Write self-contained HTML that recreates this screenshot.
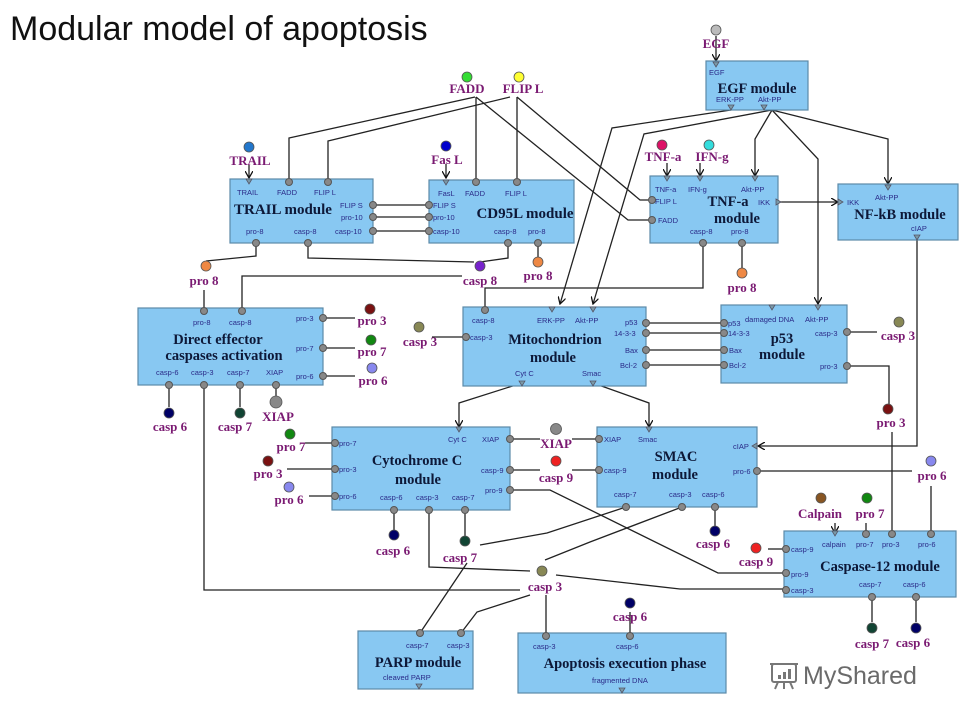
<!DOCTYPE html>
<html><head><meta charset="utf-8"><style>
body{margin:0;background:#fff;width:960px;height:720px;overflow:hidden}
svg{display:block}
.t{font-family:"Liberation Sans",sans-serif;font-size:34px;fill:#111}
.b{fill:#88c8f2;stroke:#5c8aa8;stroke-width:1.2}
.m{font-family:"Liberation Serif",serif;font-weight:bold;font-size:14.5px;fill:#0d1838;text-anchor:middle}
.p{font-family:"Liberation Sans",sans-serif;font-size:7.5px;fill:#2a2a88}
.n{font-family:"Liberation Serif",serif;font-weight:bold;font-size:13px;fill:#7a1a72;text-anchor:middle}
.l{fill:none;stroke:#222;stroke-width:1.3}
.g{fill:#888;stroke:#555;stroke-width:1}
.tr{fill:#7a9aa8;stroke:#556;stroke-width:.8}
</style></head><body>
<svg width="960" height="720" viewBox="0 0 960 720" xmlns="http://www.w3.org/2000/svg">
<defs><marker id="a" markerWidth="8" markerHeight="8" refX="7" refY="4" orient="auto" markerUnits="userSpaceOnUse"><path d="M0,0 L7,4 L0,8" fill="none" stroke="#111" stroke-width="1.3"/></marker></defs>
<text class="t" x="10" y="40">Modular model of apoptosis</text>

<g class="l">
<path d="M716,36V61" marker-end="url(#a)"/>
<path d="M731,110L612,128L560,304" marker-end="url(#a)"/>
<path d="M772,110L644,134L593,304" marker-end="url(#a)"/>
<path d="M772,110L755,139V176" marker-end="url(#a)"/>
<path d="M772,110L818,159V304" marker-end="url(#a)"/>
<path d="M772,110L888,139V184" marker-end="url(#a)"/>
<path d="M778,202H838" marker-end="url(#a)"/>
<path d="M917,237V446H758" marker-end="url(#a)"/>
<path d="M475,97L289,138V180"/>
<path d="M510,97L328,141V180"/>
<path d="M476,97V180"/>
<path d="M517,97V180"/>
<path d="M476,97L628,220H650"/>
<path d="M517,97L640,200H650"/>
<path d="M249,165V178" marker-end="url(#a)"/>
<path d="M446,164V178" marker-end="url(#a)"/>
<path d="M667,163V176" marker-end="url(#a)"/>
<path d="M700,163V176" marker-end="url(#a)"/>
<path d="M373,205H429M373,217H429M373,231H429"/>
<path d="M256,243V256L206,261"/>
<path d="M308,243V258L474,262"/>
<path d="M508,243V258L480,262"/>
<path d="M538,243V258"/>
<path d="M703,243V288H485V310"/>
<path d="M242,308V276H462"/>
<path d="M204,290V308"/>
<path d="M742,243V268"/>
<path d="M646,323H721M646,333H721M646,350H721M646,365H721"/>
<path d="M432,337H463"/>
<path d="M522,383L459,403V427" marker-end="url(#a)"/>
<path d="M593,383L649,403V427" marker-end="url(#a)"/>
<path d="M847,332H877"/>
<path d="M847,366H889V404"/>
<path d="M892,432V532"/>
<path d="M931,486V532"/>
<path d="M757,471H912"/>
<path d="M323,318H355M323,348H355M323,376H355"/>
<path d="M169,385V407M240,385V407M276,385V396"/>
<path d="M204,385V590H520"/>
<path d="M305,443H332M287,469H332M309,496H332"/>
<path d="M510,439H540M572,439H597M510,470H540M572,470H597"/>
<path d="M510,490H550L718,573H784"/>
<path d="M394,510V530M465,510V536"/>
<path d="M429,510V567L530,571"/>
<path d="M480,545L547,533L626,507"/>
<path d="M545,560L590,542L682,507"/>
<path d="M715,507V526"/>
<path d="M556,575L680,589H784"/>
<path d="M546,595V633"/>
<path d="M530,595L477,612L461,633"/>
<path d="M467,563L420,633"/>
<path d="M630,612V633"/>
<path d="M768,549H784"/>
<path d="M835,523V533" marker-end="url(#a)"/>
<path d="M866,523V533"/>
<path d="M872,597V622M916,597V622"/>
</g>

<rect class="b" x="706" y="61" width="102" height="49"/>
<rect class="b" x="230" y="179" width="143" height="64"/>
<rect class="b" x="429" y="180" width="145" height="63"/>
<rect class="b" x="650" y="176" width="128" height="67"/>
<rect class="b" x="838" y="184" width="120" height="56"/>
<rect class="b" x="138" y="308" width="185" height="77"/>
<rect class="b" x="463" y="307" width="183" height="79"/>
<rect class="b" x="721" y="305" width="126" height="78"/>
<rect class="b" x="332" y="427" width="178" height="83"/>
<rect class="b" x="597" y="427" width="160" height="80"/>
<rect class="b" x="784" y="531" width="172" height="66"/>
<rect class="b" x="358" y="631" width="115" height="58"/>
<rect class="b" x="518" y="633" width="208" height="60"/>

<text class="m" x="757" y="93">EGF module</text>
<text class="m" x="283" y="214" style="font-size:15px">TRAIL module</text>
<text class="m" x="525" y="218" style="font-size:15px">CD95L module</text>
<text class="m" x="728" y="206">TNF-a</text><text class="m" x="737" y="223">module</text>
<text class="m" x="900" y="219">NF-kB module</text>
<text class="m" x="218" y="344">Direct effector</text><text class="m" x="224" y="360">caspases activation</text>
<text class="m" x="555" y="344">Mitochondrion</text><text class="m" x="553" y="362">module</text>
<text class="m" x="782" y="343">p53</text><text class="m" x="782" y="359">module</text>
<text class="m" x="417" y="465">Cytochrome C</text><text class="m" x="418" y="484">module</text>
<text class="m" x="676" y="461">SMAC</text><text class="m" x="675" y="479">module</text>
<text class="m" x="880" y="571">Caspase-12 module</text>
<text class="m" x="418" y="667">PARP module</text>
<text class="m" x="625" y="668">Apoptosis execution phase</text>

<g class="p">
<text x="709" y="75">EGF</text><text x="716" y="102">ERK-PP</text><text x="758" y="102">Akt-PP</text>
<text x="237" y="195">TRAIL</text><text x="277" y="195">FADD</text><text x="314" y="195">FLIP L</text>
<text x="340" y="208">FLIP S</text><text x="341" y="220">pro-10</text><text x="335" y="234">casp-10</text>
<text x="246" y="234">pro-8</text><text x="294" y="234">casp-8</text>
<text x="438" y="196">FasL</text><text x="465" y="196">FADD</text><text x="505" y="196">FLIP L</text>
<text x="433" y="208">FLIP S</text><text x="433" y="220">pro-10</text><text x="433" y="234">casp-10</text>
<text x="494" y="234">casp-8</text><text x="528" y="234">pro-8</text>
<text x="655" y="192">TNF-a</text><text x="688" y="192">IFN-g</text><text x="741" y="192">Akt-PP</text>
<text x="655" y="204">FLIP L</text><text x="658" y="223">FADD</text><text x="758" y="205">IKK</text>
<text x="690" y="234">casp-8</text><text x="731" y="234">pro-8</text>
<text x="847" y="205">IKK</text><text x="875" y="200">Akt-PP</text><text x="911" y="231">cIAP</text>
<text x="193" y="325">pro-8</text><text x="229" y="325">casp-8</text>
<text x="296" y="321">pro-3</text><text x="296" y="351">pro-7</text><text x="296" y="379">pro-6</text>
<text x="156" y="375">casp-6</text><text x="191" y="375">casp-3</text><text x="227" y="375">casp-7</text><text x="266" y="375">XIAP</text>
<text x="472" y="323">casp-8</text><text x="470" y="340">casp-3</text><text x="537" y="323">ERK-PP</text><text x="575" y="323">Akt-PP</text>
<text x="625" y="325">p53</text><text x="614" y="336">14-3-3</text><text x="625" y="353">Bax</text><text x="620" y="368">Bcl-2</text>
<text x="515" y="376">Cyt C</text><text x="582" y="376">Smac</text>
<text x="728" y="326">p53</text><text x="728" y="336">14-3-3</text><text x="729" y="353">Bax</text><text x="729" y="368">Bcl-2</text>
<text x="745" y="322">damaged DNA</text><text x="805" y="322">Akt-PP</text>
<text x="815" y="336">casp-3</text><text x="820" y="369">pro-3</text>
<text x="339" y="446">pro-7</text><text x="339" y="472">pro-3</text><text x="339" y="499">pro-6</text>
<text x="448" y="442">Cyt C</text><text x="482" y="442">XIAP</text><text x="481" y="473">casp-9</text><text x="485" y="493">pro-9</text>
<text x="380" y="500">casp-6</text><text x="416" y="500">casp-3</text><text x="452" y="500">casp-7</text>
<text x="604" y="442">XIAP</text><text x="638" y="442">Smac</text><text x="733" y="449">cIAP</text>
<text x="604" y="473">casp-9</text><text x="733" y="474">pro-6</text>
<text x="614" y="497">casp-7</text><text x="669" y="497">casp-3</text><text x="702" y="497">casp-6</text>
<text x="791" y="552">casp-9</text><text x="822" y="547">calpain</text><text x="856" y="547">pro-7</text><text x="882" y="547">pro-3</text><text x="918" y="547">pro-6</text>
<text x="791" y="577">pro-9</text><text x="791" y="593">casp-3</text><text x="859" y="587">casp-7</text><text x="903" y="587">casp-6</text>
<text x="406" y="648">casp-7</text><text x="447" y="648">casp-3</text><text x="383" y="680">cleaved PARP</text>
<text x="533" y="649">casp-3</text><text x="616" y="649">casp-6</text><text x="592" y="683">fragmented DNA</text>
</g>

<g class="g">
<circle cx="289" cy="182" r="3.5"/><circle cx="328" cy="182" r="3.5"/>
<circle cx="373" cy="205" r="3.5"/><circle cx="373" cy="217" r="3.5"/><circle cx="373" cy="231" r="3.5"/>
<circle cx="429" cy="205" r="3.5"/><circle cx="429" cy="217" r="3.5"/><circle cx="429" cy="231" r="3.5"/>
<circle cx="256" cy="243" r="3.5"/><circle cx="308" cy="243" r="3.5"/>
<circle cx="476" cy="182" r="3.5"/><circle cx="517" cy="182" r="3.5"/>
<circle cx="508" cy="243" r="3.5"/><circle cx="538" cy="243" r="3.5"/>
<circle cx="652" cy="200" r="3.5"/><circle cx="652" cy="220" r="3.5"/>
<circle cx="703" cy="243" r="3.5"/><circle cx="742" cy="243" r="3.5"/>
<circle cx="204" cy="311" r="3.5"/><circle cx="242" cy="311" r="3.5"/>
<circle cx="323" cy="318" r="3.5"/><circle cx="323" cy="348" r="3.5"/><circle cx="323" cy="376" r="3.5"/>
<circle cx="169" cy="385" r="3.5"/><circle cx="204" cy="385" r="3.5"/><circle cx="240" cy="385" r="3.5"/><circle cx="276" cy="385" r="3.5"/>
<circle cx="485" cy="310" r="3.5"/><circle cx="466" cy="337" r="3.5"/>
<circle cx="646" cy="323" r="3.5"/><circle cx="646" cy="333" r="3.5"/><circle cx="646" cy="350" r="3.5"/><circle cx="646" cy="365" r="3.5"/>
<circle cx="724" cy="323" r="3.5"/><circle cx="724" cy="333" r="3.5"/><circle cx="724" cy="350" r="3.5"/><circle cx="724" cy="365" r="3.5"/>
<circle cx="847" cy="332" r="3.5"/><circle cx="847" cy="366" r="3.5"/>
<circle cx="335" cy="443" r="3.5"/><circle cx="335" cy="469" r="3.5"/><circle cx="335" cy="496" r="3.5"/>
<circle cx="510" cy="439" r="3.5"/><circle cx="510" cy="470" r="3.5"/><circle cx="510" cy="490" r="3.5"/>
<circle cx="394" cy="510" r="3.5"/><circle cx="429" cy="510" r="3.5"/><circle cx="465" cy="510" r="3.5"/>
<circle cx="599" cy="439" r="3.5"/><circle cx="599" cy="470" r="3.5"/><circle cx="757" cy="471" r="3.5"/>
<circle cx="626" cy="507" r="3.5"/><circle cx="682" cy="507" r="3.5"/><circle cx="715" cy="507" r="3.5"/>
<circle cx="786" cy="549" r="3.5"/><circle cx="786" cy="573" r="3.5"/><circle cx="786" cy="590" r="3.5"/>
<circle cx="866" cy="534" r="3.5"/><circle cx="892" cy="534" r="3.5"/><circle cx="931" cy="534" r="3.5"/>
<circle cx="872" cy="597" r="3.5"/><circle cx="916" cy="597" r="3.5"/>
<circle cx="420" cy="633" r="3.5"/><circle cx="461" cy="633" r="3.5"/>
<circle cx="546" cy="636" r="3.5"/><circle cx="630" cy="636" r="3.5"/>
</g>
<g class="tr">
<path d="M713,62h6l-3,5z"/><path d="M728,105h6l-3,5z"/><path d="M761,105h6l-3,5z"/>
<path d="M246,179h6l-3,5z"/><path d="M443,180h6l-3,5z"/><path d="M664,176h6l-3,5z"/><path d="M697,176h6l-3,5z"/><path d="M752,176h6l-3,5z"/>
<path d="M776,199v6l5,-3z"/><path d="M838,199v6l5,-3z"/><path d="M885,185h6l-3,5z"/><path d="M914,235h6l-3,5z"/>
<path d="M549,307h6l-3,5z"/><path d="M590,307h6l-3,5z"/><path d="M519,381h6l-3,5z"/><path d="M590,381h6l-3,5z"/>
<path d="M769,305h6l-3,5z"/><path d="M815,305h6l-3,5z"/>
<path d="M456,427h6l-3,5z"/><path d="M646,427h6l-3,5z"/><path d="M757,443v6l-5,-3z"/>
<path d="M832,531h6l-3,5z"/><path d="M416,684h6l-3,5z"/><path d="M619,688h6l-3,5z"/>
</g>

<g stroke="#555" stroke-width=".8">
<circle cx="716" cy="30" r="5" fill="#bbb"/>
<circle cx="467" cy="77" r="5" fill="#33dd33"/><circle cx="519" cy="77" r="5" fill="#ffff33"/>
<circle cx="249" cy="147" r="5" fill="#2277cc"/><circle cx="446" cy="146" r="5" fill="#0000cc"/>
<circle cx="662" cy="145" r="5" fill="#dd1166"/><circle cx="709" cy="145" r="5" fill="#33dddd"/>
<circle cx="206" cy="266" r="5" fill="#ee8844"/><circle cx="480" cy="266" r="5" fill="#7722cc"/>
<circle cx="538" cy="262" r="5" fill="#ee8844"/><circle cx="742" cy="273" r="5" fill="#ee8844"/>
<circle cx="370" cy="309" r="5" fill="#7a1111"/><circle cx="371" cy="340" r="5" fill="#118811"/><circle cx="372" cy="368" r="5" fill="#8888ee"/>
<circle cx="419" cy="327" r="5" fill="#888855"/><circle cx="899" cy="322" r="5" fill="#888855"/>
<circle cx="169" cy="413" r="5" fill="#000066"/><circle cx="240" cy="413" r="5" fill="#114433"/><circle cx="276" cy="402" r="6" fill="#888"/>
<circle cx="888" cy="409" r="5" fill="#7a1111"/>
<circle cx="290" cy="434" r="5" fill="#118811"/><circle cx="268" cy="461" r="5" fill="#7a1111"/><circle cx="289" cy="487" r="5" fill="#8888ee"/>
<circle cx="556" cy="429" r="5.5" fill="#888"/><circle cx="556" cy="461" r="5" fill="#ee2222"/>
<circle cx="931" cy="461" r="5" fill="#8888ee"/>
<circle cx="394" cy="535" r="5" fill="#000066"/><circle cx="465" cy="541" r="5" fill="#114433"/><circle cx="715" cy="531" r="5" fill="#000066"/>
<circle cx="821" cy="498" r="5" fill="#885522"/><circle cx="867" cy="498" r="5" fill="#118811"/><circle cx="756" cy="548" r="5" fill="#ee2222"/>
<circle cx="542" cy="571" r="5" fill="#888855"/><circle cx="630" cy="603" r="5" fill="#000066"/>
<circle cx="872" cy="628" r="5" fill="#114433"/><circle cx="916" cy="628" r="5" fill="#000066"/>
</g>
<g class="n">
<text x="716" y="48">EGF</text><text x="467" y="93">FADD</text><text x="523" y="93">FLIP L</text>
<text x="250" y="165">TRAIL</text><text x="447" y="164">Fas L</text><text x="663" y="161">TNF-a</text><text x="712" y="161">IFN-g</text>
<text x="204" y="285">pro 8</text><text x="480" y="285">casp 8</text><text x="538" y="280">pro 8</text><text x="742" y="292">pro 8</text>
<text x="372" y="325">pro 3</text><text x="372" y="356">pro 7</text><text x="373" y="385">pro 6</text>
<text x="420" y="346">casp 3</text><text x="898" y="340">casp 3</text>
<text x="170" y="431">casp 6</text><text x="235" y="431">casp 7</text><text x="278" y="421">XIAP</text>
<text x="891" y="427">pro 3</text>
<text x="291" y="451">pro 7</text><text x="268" y="478">pro 3</text><text x="289" y="504">pro 6</text>
<text x="556" y="448">XIAP</text><text x="556" y="482">casp 9</text><text x="932" y="480">pro 6</text>
<text x="393" y="555">casp 6</text><text x="460" y="562">casp 7</text><text x="713" y="548">casp 6</text>
<text x="820" y="518">Calpain</text><text x="870" y="518">pro 7</text><text x="756" y="566">casp 9</text>
<text x="545" y="591">casp 3</text><text x="630" y="621">casp 6</text>
<text x="872" y="648">casp 7</text><text x="913" y="647">casp 6</text>
</g>

<g fill="none" stroke="#777" stroke-width="2">
<rect x="772" y="664" width="24" height="18" rx="2"/><path d="M770,664h28M778,682l-3,7M790,682l3,7M784,682v7"/>
</g>
<g fill="#777"><rect x="778" y="675" width="3" height="4"/><rect x="783" y="672" width="3" height="7"/><rect x="788" y="669" width="3" height="10"/></g>
<text x="803" y="684" style="font-family:'Liberation Sans',sans-serif;font-size:25px;fill:#6a6a6a">MyShared</text>
</svg>
</body></html>
